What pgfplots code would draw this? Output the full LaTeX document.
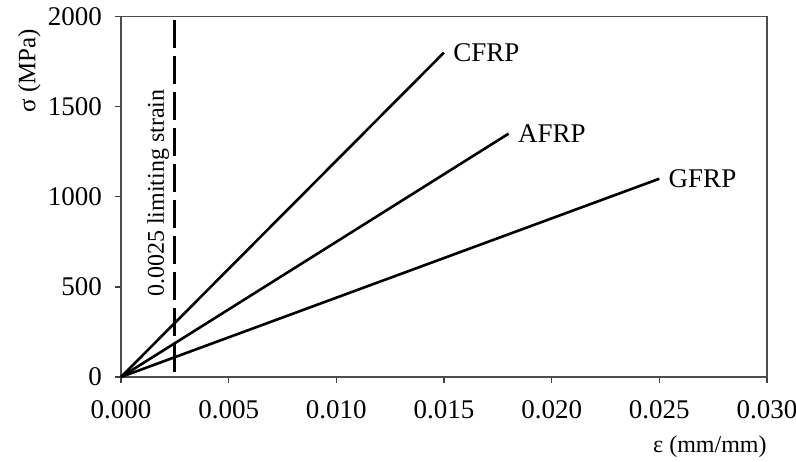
\documentclass[border=0pt]{standalone}
\usepackage{pgfplots}
\pgfplotsset{compat=1.18}
\usepackage{fontspec}
\setmainfont{Liberation Serif}
\newcommand{\ff}{\fontsize{13.5}{16}\selectfont}
\newcommand{\fs}{\fontsize{12}{14}\selectfont}
\newcommand{\fy}{\fontsize{12.5}{15}\selectfont}
\begin{document}
\begin{tikzpicture}[font=\ff]
\begin{axis}[
 scale only axis, width=323pt, height=180.25pt,
 xmin=0, xmax=0.03, ymin=0, ymax=2000,
 xtick={0,0.005,0.01,0.015,0.02,0.025,0.03},
 ytick={0,500,1000,1500,2000},
 scaled x ticks=false,
 tick label style={font=\ff},
 xticklabel style={/pgf/number format/.cd, fixed, fixed zerofill, precision=3},
 yticklabel style={/pgf/number format/1000 sep={}},
 /pgf/number format/assume math mode=true,
 xticklabel shift=5pt,
 yticklabel shift=3pt,
 tick pos=left, tick align=outside, major tick length=3pt,
 tick style={black!75, line width=0.7pt},
 axis line style={black!70, line width=0.7pt},
 xlabel={ε (mm/mm)}, ylabel={σ (MPa)},
 xlabel style={font=\fs, at={(axis description cs:1,-0.194)}, anchor=east, inner sep=0pt},
 ylabel style={font=\fy, at={(axis description cs:-0.142,0.85)}, anchor=center, inner sep=0pt},
 clip=false,
]
\addplot[black, line width=1.3pt] coordinates {(0,0) (0.015,1800)};
\addplot[black, line width=1.3pt] coordinates {(0,0) (0.018,1350)};
\addplot[black, line width=1.3pt] coordinates {(0,0) (0.025,1100)};
\addplot[black, line width=1.4pt, dash pattern=on 14pt off 4pt] coordinates {(0.0025,1980) (0.0025,0)};
\node[anchor=west, inner sep=0pt, xshift=4.5pt, font=\ff] at (axis cs:0.015,1800) {CFRP};
\node[anchor=west, inner sep=0pt, xshift=4.5pt, font=\ff] at (axis cs:0.018,1350) {AFRP};
\node[anchor=west, inner sep=0pt, xshift=4.5pt, font=\ff] at (axis cs:0.025,1100) {GFRP};
\node[rotate=90, inner sep=0pt, font=\fs] at (axis cs:0.00172,1020) {0.0025 limiting strain};
\end{axis}
\pgfresetboundingbox
\path[use as bounding box] (-60.5pt,-42pt) rectangle (337.5pt,188.5pt);
\end{tikzpicture}
\end{document}
